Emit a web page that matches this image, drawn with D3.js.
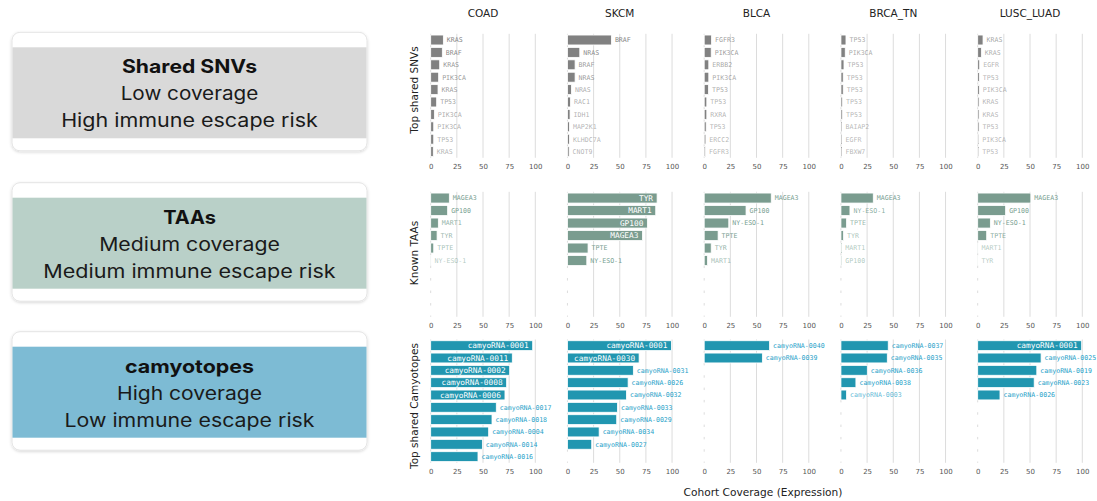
<!DOCTYPE html>
<html><head><meta charset="utf-8">
<script src="https://cdn.jsdelivr.net/npm/d3@7"></script>
<style>body{margin:0;background:#fff;} svg{display:block;}</style>
</head><body><svg id="c" width="1097" height="501"></svg>
<script>
// ---------- data ----------
const cohorts = ["COAD","SKCM","BLCA","BRCA_TN","LUSC_LUAD"];
const xTicks = [0,25,50,75,100];
const rowNames = ["Top shared SNVs","Known TAAs","Top shared Camyotopes"];
const cardTitles = ["Shared SNVs","TAAs","camyotopes"];
const cardLine1 = ["Low coverage","Medium coverage","High coverage"];
const cardLine2 = ["High immune escape risk","Medium immune escape risk","Low immune escape risk"];
const xLabel = "Cohort Coverage (Expression)";

const snvGenes = [
  ["KRAS","BRAF","KRAS","PIK3CA","KRAS","TP53","PIK3CA","PIK3CA","TP53","KRAS"],
  ["BRAF","NRAS","BRAF","NRAS","NRAS","RAC1","IDH1","MAP2K1","KLHDC7A","CNOT9"],
  ["FGFR3","PIK3CA","ERBB2","PIK3CA","TP53","TP53","RXRA","TP53","ERCC2","FGFR3"],
  ["TP53","PIK3CA","TP53","TP53","TP53","TP53","TP53","BAIAP2","EGFR","FBXW7"],
  ["KRAS","KRAS","EGFR","TP53","PIK3CA","KRAS","KRAS","TP53","PIK3CA","TP53"]
];
const snvValues = [
  [12.1,11.1,8.6,7.6,7.0,5.7,3.5,2.9,2.9,2.5],
  [42.0,11.8,7.3,7.3,3.8,2.9,2.5,1.9,1.9,1.6],
  [7.0,6.7,4.4,4.4,4.1,2.5,2.5,1.9,1.6,1.3],
  [4.8,4.1,2.9,2.2,2.2,1.6,1.6,1.0,1.0,1.0],
  [5.1,3.5,1.9,1.6,1.6,1.3,1.3,1.3,1.0,1.0]
];
const taaNames = [
  ["MAGEA3","GP100","MART1","TYR","TPTE","NY-ESO-1"],
  ["TYR","MART1","GP100","MAGEA3","TPTE","NY-ESO-1"],
  ["MAGEA3","GP100","NY-ESO-1","TPTE","TYR","MART1"],
  ["MAGEA3","NY-ESO-1","TPTE","TYR","MART1","GP100"],
  ["MAGEA3","GP100","NY-ESO-1","TPTE","MART1","TYR"]
];
const taaValues = [
  [17.8,16.2,7.3,6.1,2.9,0.3],
  [85.7,84.4,76.4,71.7,19.7,18.5],
  [64.1,40.0,23.5,13.3,6.7,3.2],
  [30.9,8.6,5.4,2.5,0.8,0.8],
  [50.8,26.7,12.1,8.6,0.3,0.2]
];
const camyoNames = [
  ["camyoRNA-0001","camyoRNA-0011","camyoRNA-0002","camyoRNA-0008","camyoRNA-0006","camyoRNA-0017","camyoRNA-0018","camyoRNA-0004","camyoRNA-0014","camyoRNA-0016"],
  ["camyoRNA-0001","camyoRNA-0030","camyoRNA-0031","camyoRNA-0026","camyoRNA-0032","camyoRNA-0033","camyoRNA-0029","camyoRNA-0034","camyoRNA-0027"],
  ["camyoRNA-0040","camyoRNA-0039"],
  ["camyoRNA-0037","camyoRNA-0035","camyoRNA-0036","camyoRNA-0038","camyoRNA-0003"],
  ["camyoRNA-0001","camyoRNA-0025","camyoRNA-0019","camyoRNA-0023","camyoRNA-0026"]
];
const camyoValues = [
  [97.5,78.0,75.5,72.6,71.0,62.7,58.6,55.4,49.4,45.2],
  [99.4,68.5,63.0,58.0,56.4,47.8,47.1,30.3,23.2],
  [62.5,55.6],
  [45.2,44.3,25.2,14.3,5.4],
  [99.4,60.6,56.5,54.0,21.3]
];

// ---------- layout / style ----------
const svg = d3.select("#c");
const FONT = "'DejaVu Sans', sans-serif";
const MONO = "'DejaVu Sans Mono', monospace";
const CARD_FONT = "Inter, 'Open Sans', sans-serif";
const rows = [
  {names: snvGenes, values: snvValues, top: 33.8, bottom: 157.8, bar: "#818181", lab: "#858585", labelY: 90},
  {names: taaNames, values: taaValues, top: 191.8, bottom: 316.8, bar: "#7a9c8f", lab: "#78a091", labelY: 253},
  {names: camyoNames, values: camyoValues, top: 339.5, bottom: 462.8, bar: "#2196b0", lab: "#1fa2c9", labelY: 406}
];
const cards = [
  {top: 32.3, band: "#d9d9d9"},
  {top: 182.7, band: "#b9d0c8"},
  {top: 331.7, band: "#7dbbd4"}
];
const titleW = [135, 52.7, 129];
const line1W = [137.6, 180.7, 145];
const line2W = [256.7, 292.4, 250];
const panelX0 = 430.7, panelStep = 136.75, panelW = 104.6;
const SLOTS = 10, INSIDE = 66;

// ---------- left cards ----------
const defs = svg.append("defs");
const f = defs.append("filter").attr("id","sh").attr("x","-5%").attr("y","-10%").attr("width","110%").attr("height","125%");
f.append("feDropShadow").attr("dx",0).attr("dy",1).attr("stdDeviation",1.6).attr("flood-color","#000").attr("flood-opacity",0.16);

const cardG = svg.append("g");
cards.forEach((c,i) => {
  const g = cardG.append("g");
  g.append("rect").attr("x",12).attr("y",c.top).attr("width",355).attr("height",118.5)
    .attr("rx",8).attr("fill","#fff").attr("stroke","#e4e4e4").attr("stroke-width",1).attr("filter","url(#sh)");
  g.append("rect").attr("x",12.5).attr("y",c.top+15).attr("width",354).attr("height",91).attr("fill",c.band);
  const cx = 189.5;
  g.append("text").attr("x",cx).attr("y",c.top+41).attr("text-anchor","middle")
    .attr("font-family",CARD_FONT).attr("font-weight",700).attr("font-size",18.5).attr("fill","#111")
    .attr("textLength",titleW[i]).attr("lengthAdjust","spacingAndGlyphs").text(cardTitles[i]);
  g.append("text").attr("x",cx).attr("y",c.top+68).attr("text-anchor","middle")
    .attr("font-family",CARD_FONT).attr("font-weight",400).attr("font-size",18.5).attr("fill","#1a1a1a")
    .attr("textLength",line1W[i]).attr("lengthAdjust","spacingAndGlyphs").text(cardLine1[i]);
  g.append("text").attr("x",cx).attr("y",c.top+95).attr("text-anchor","middle")
    .attr("font-family",CARD_FONT).attr("font-weight",400).attr("font-size",18.5).attr("fill","#1a1a1a")
    .attr("textLength",line2W[i]).attr("lengthAdjust","spacingAndGlyphs").text(cardLine2[i]);
});

// ---------- column titles ----------
cohorts.forEach((c,j) => {
  const x = d3.scaleLinear().domain([0,100]).range([panelX0+j*panelStep, panelX0+j*panelStep+panelW]);
  svg.append("text").attr("x",x(50)).attr("y",16.7).attr("text-anchor","middle")
    .attr("font-family",FONT).attr("font-size",10.5).attr("fill","#222").text(c);
});

// ---------- rows ----------
rows.forEach((r,ri) => {
  const y = d3.scaleBand().domain(d3.range(SLOTS)).range([r.top, r.bottom]).paddingInner(0.2).paddingOuter(0.1);
  svg.append("text")
    .attr("transform",`translate(418,${r.labelY}) rotate(-90)`)
    .attr("text-anchor","middle").attr("font-family",FONT).attr("font-size",10.5).attr("fill","#222")
    .text(rowNames[ri]);

  cohorts.forEach((c,j) => {
    const x = d3.scaleLinear().domain([0,100]).range([panelX0+j*panelStep, panelX0+j*panelStep+panelW]);
    const g = svg.append("g");
    // grid lines (0 line only visible between bands)
    g.selectAll("line.grid").data(xTicks.filter(t => t>0)).join("line")
      .attr("x1",d=>x(d)).attr("x2",d=>x(d)).attr("y1",r.top).attr("y2",r.bottom)
      .attr("stroke","#dcdcdc").attr("stroke-width",1);
    const gaps = d3.range(SLOTS+1);
    g.selectAll("line.zero").data(gaps).join("line")
      .attr("x1",x(0)).attr("x2",x(0))
      .attr("y1",i => i===0 ? r.top : y(i-1)+y.bandwidth())
      .attr("y2",i => i===SLOTS ? r.bottom : y(i))
      .attr("stroke","#dcdcdc").attr("stroke-width",1);
    // axis tick labels
    const ax = d3.axisBottom(x).tickValues(xTicks).tickSize(0).tickPadding(6).tickFormat(d3.format("d"));
    const axG = g.append("g").attr("transform",`translate(0,${r.bottom})`).call(ax);
    axG.select(".domain").remove();
    axG.selectAll("text").attr("font-family",FONT).attr("font-size",7).attr("fill","#555");

    const data = r.values[j].map((v,i) => ({v, name: r.names[j][i], i}));
    g.selectAll("rect.bar").data(data).join("rect")
      .attr("x",x(0)).attr("y",d=>y(d.i)).attr("width",d=>Math.max(0,x(d.v)-x(0))).attr("height",y.bandwidth())
      .attr("fill",r.bar).attr("stroke","#fff").attr("stroke-width",0.8);
    g.selectAll("text.lab").data(data).join("text")
      .attr("x",d => d.v>=INSIDE ? x(d.v)-4 : x(d.v)+3.5)
      .attr("y",d=>y(d.i)+y.bandwidth()/2)
      .attr("dy","0.36em")
      .attr("text-anchor",d => d.v>=INSIDE ? "end" : "start")
      .attr("font-family",MONO)
      .attr("font-size",d => d.v>=INSIDE ? 7.8 : 6.6)
      .attr("fill",d => d.v>=INSIDE ? "#fff" : r.lab)
      .attr("fill-opacity",d => d.v>=INSIDE ? 1 : 0.55 + 0.45*Math.min(1, d.v/12))
      .text(d=>d.name);
  });
});

// ---------- x label ----------
svg.append("text").attr("x",763).attr("y",496).attr("text-anchor","middle")
  .attr("font-family",FONT).attr("font-size",10.6).attr("fill","#222").text(xLabel);
</script>
</body></html>
